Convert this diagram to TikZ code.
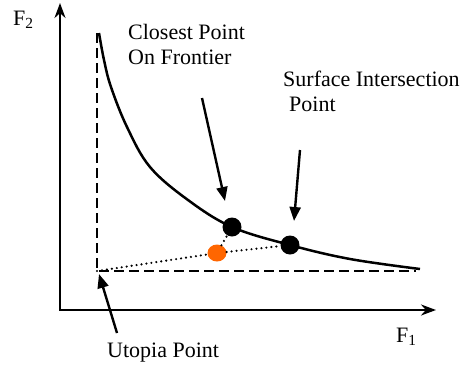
\documentclass[tikz,border=0pt]{standalone}
\usepackage{fontspec}
\setmainfont{Liberation Serif}
\usetikzlibrary{arrows.meta,positioning,shapes.geometric}
\definecolor{nearorange}{RGB}{255,102,0}

\begin{document}
\begin{tikzpicture}[x=1pt,y=-1pt,
        axis/.style={line width=2.3pt,{Stealth[length=15pt,width=11pt]}-{Stealth[length=15pt,width=11pt]}},
        pointer/.style={line width=2.4pt,-{Triangle[length=14pt,width=11pt]}},
        bound/.style={line width=2.8pt,dash pattern=on 10pt off 5pt},
        link/.style={line width=2.4pt,dash pattern=on 0pt off 5pt,line cap=round},
        frontier/.style={line width=2.5pt},
        lbl/.style={font=\fontsize{22}{25}\selectfont,inner sep=0pt,align=left},
        blackdot/.style={circle,fill=black,minimum size=19pt,inner sep=0pt},
        orangedot/.style={ellipse,fill=nearorange,minimum width=19pt,minimum height=17pt,inner sep=0pt}]
                    \useasboundingbox (0,0) rectangle (467,365);
                    \coordinate (o) at (60,310);
                    \coordinate (xend) at (436,310);
                    \coordinate (yend) at (60,3);
                    \coordinate (utopia) at (97,271);
                    \coordinate (vtop) at (97,33);
                    \coordinate (hend) at (416,271);

                    \draw[axis] (yend) -- (o) -- (xend);
                    \draw[bound] (vtop) -- (utopia) -- (hend);
                    \draw[frontier] plot[smooth,tension=0.6] coordinates {(99,33) (104,60) (111,87) (127,127) (150,167) (188,200) (232,227) (290,245) (350,259) (420,269)};

                    \node[blackdot] (closest) at (232,227) {};
                    \node[blackdot] (surface) at (290,245) {};
                    \node[orangedot] (nearest) at (217,253) {};
                    \draw[link] (utopia) -- (nearest) -- (surface);
                    \draw[link] (nearest) -- (closest);

                    \node[lbl,anchor=base west] (f2) at (13,25) {F\textsubscript{2}};
                    \node[lbl,anchor=base west] (f1) at (396,342) {F\textsubscript{1}};
                    \node[lbl,anchor=north west] (closestlbl) at (128,24) {Closest Point\\On Frontier};
                    \node[lbl,anchor=north west] (surfacelbl) at (283,71) {Surface Intersection\\\hspace*{6pt}Point};
                    \node[lbl,anchor=base west] (utopialbl) at (107,357) {Utopia Point};

                    \coordinate (closesttail) at (202,98);
                    \coordinate (closesttip) at (225,201);
                    \coordinate (surfacetail) at (300,150);
                    \coordinate (surfacetip) at (294,221);
                    \coordinate (utopiatail) at (117,333);
                    \coordinate (utopiatip) at (99,274);
                    \draw[pointer] (closesttail) -- (closesttip);
                    \draw[pointer] (surfacetail) -- (surfacetip);
                    \draw[pointer] (utopiatail) -- (utopiatip);
\end{tikzpicture}
\end{document}
